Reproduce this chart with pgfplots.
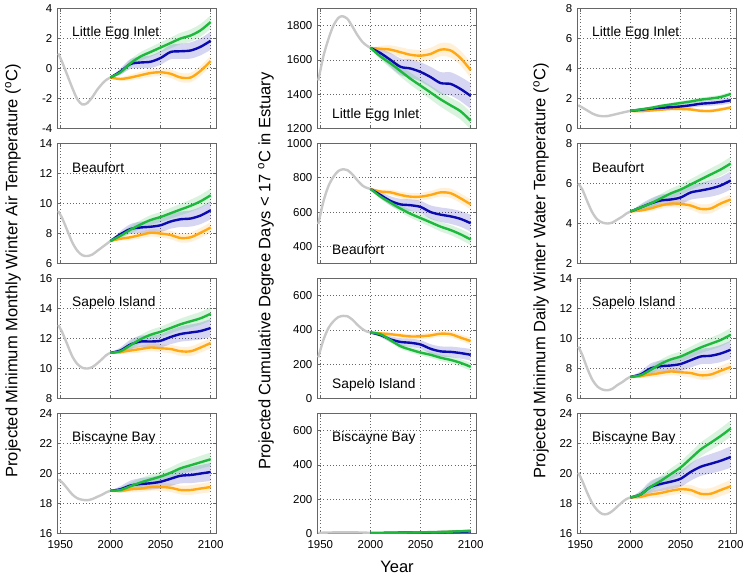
\documentclass[border=0pt]{standalone}
\usepackage{pgfplots}
\pgfplotsset{compat=1.18}
\usepackage{pgfplotstable}
\usepgfplotslibrary{fillbetween}
\usepackage{fontspec}
\setmainfont{Liberation Sans}

\definecolor{corange}{RGB}{255,168,20}
\definecolor{cblue}{RGB}{10,10,175}
\definecolor{cgreen}{RGB}{30,185,60}
\definecolor{cgray}{RGB}{200,200,200}

% ---------- historical (gray) ----------
\pgfplotstableread{
x y
1948 1.0
1952 0.4
1957 -0.45
1962 -1.3
1967 -2.05
1972 -2.4
1977 -2.3
1982 -1.9
1987 -1.4
1992 -1.0
1996 -0.75
2000 -0.6
}\Ha
\pgfplotstableread{
x y
1948 9.5
1952 9.0
1957 8.2
1962 7.4
1967 6.85
1972 6.55
1977 6.5
1982 6.6
1987 6.85
1992 7.1
1996 7.3
2000 7.5
}\Hb
\pgfplotstableread{
x y
1948 12.9
1952 12.4
1957 11.6
1962 10.8
1967 10.3
1972 10.05
1977 10.0
1982 10.1
1987 10.35
1992 10.65
1996 10.9
2000 11.05
}\Hc
\pgfplotstableread{
x y
1948 19.6
1952 19.4
1957 19.0
1962 18.6
1967 18.35
1972 18.25
1977 18.22
1982 18.3
1987 18.45
1992 18.6
1996 18.75
2000 18.85
}\Hd
\pgfplotstableread{
x y
1948 1480
1953 1620
1958 1720
1963 1800
1968 1845
1972 1855
1977 1840
1982 1795
1987 1745
1992 1705
1996 1685
2000 1670
}\HCa
\pgfplotstableread{
x y
1948 530
1953 660
1958 750
1963 805
1968 840
1973 850
1977 845
1982 820
1987 785
1992 755
1996 742
2000 735
}\HCb
\pgfplotstableread{
x y
1948 240
1953 340
1958 410
1963 450
1968 475
1973 482
1977 480
1982 460
1987 430
1992 405
1996 392
2000 385
}\HCc
\pgfplotstableread{
x y
1948 4
1960 6
1975 7
1990 6
2000 4
}\HCd
\pgfplotstableread{
x y
1948 1.55
1952 1.4
1957 1.2
1962 1.0
1967 0.87
1972 0.82
1977 0.83
1982 0.9
1987 0.98
1992 1.06
1996 1.12
2000 1.18
}\HWa
\pgfplotstableread{
x y
1948 6.0
1952 5.7
1957 5.1
1962 4.55
1967 4.2
1972 4.05
1977 4.0
1982 4.05
1987 4.2
1992 4.35
1996 4.5
2000 4.6
}\HWb
\pgfplotstableread{
x y
1948 9.45
1952 8.9
1957 8.0
1962 7.25
1967 6.8
1972 6.6
1977 6.55
1982 6.65
1987 6.9
1992 7.1
1996 7.3
2000 7.45
}\HWc
\pgfplotstableread{
x y
1948 20.05
1952 19.5
1957 18.7
1962 18.0
1967 17.55
1972 17.3
1977 17.3
1982 17.5
1987 17.8
1992 18.1
1996 18.3
2000 18.4
}\HWd

% ---------- projections: orange, blue, green with band half-widths ----------
\pgfplotstableread{
x o oe b be g ge
2000 -0.6 0 -0.6 0 -0.6 0
2010 -0.7 .12 -0.2 .21 -0.25 .16
2020 -0.6 .19 0.3 .33 0.35 .25
2030 -0.45 .23 0.4 .39 0.8 .29
2040 -0.3 .25 0.45 .42 1.1 .32
2050 -0.25 .26 0.7 .45 1.4 .34
2060 -0.35 .28 1.1 .48 1.7 .36
2070 -0.6 .30 1.15 .51 2.0 .38
2080 -0.6 .32 1.2 .54 2.2 .41
2090 -0.15 .33 1.45 .57 2.55 .43
2100 0.5 .35 1.85 .60 3.1 .45
}\Ta
\pgfplotstableread{
x o oe b be g ge
2000 7.5 0 7.5 0 7.5 0
2010 7.65 .12 7.95 .21 7.85 .16
2020 7.75 .19 8.3 .33 8.25 .25
2030 7.9 .23 8.4 .39 8.6 .29
2040 8.05 .25 8.45 .42 8.9 .32
2050 8.0 .26 8.55 .45 9.1 .34
2060 7.9 .28 8.8 .48 9.35 .36
2070 7.7 .30 8.95 .51 9.6 .38
2080 7.75 .32 9.0 .54 9.85 .41
2090 8.05 .33 9.2 .57 10.15 .43
2100 8.4 .35 9.55 .60 10.55 .45
}\Tb
\pgfplotstableread{
x o oe b be g ge
2000 11.05 0 11.05 0 11.05 0
2010 11.1 .12 11.2 .21 11.15 .16
2020 11.2 .19 11.6 .33 11.55 .25
2030 11.3 .23 11.8 .39 11.95 .29
2040 11.4 .25 11.8 .42 12.25 .32
2050 11.35 .26 11.85 .45 12.45 .34
2060 11.3 .28 12.1 .48 12.7 .36
2070 11.15 .30 12.3 .51 12.95 .38
2080 11.15 .32 12.4 .54 13.15 .41
2090 11.4 .33 12.5 .57 13.35 .43
2100 11.7 .35 12.7 .60 13.65 .45
}\Tc
\pgfplotstableread{
x o oe b be g ge
2000 18.85 0 18.85 0 18.85 0
2010 18.85 .12 18.95 .21 18.9 .16
2020 18.95 .19 19.2 .33 19.15 .25
2030 19.0 .23 19.3 .39 19.4 .29
2040 19.1 .25 19.35 .42 19.6 .32
2050 19.1 .26 19.45 .45 19.8 .34
2060 19.05 .28 19.65 .48 20.05 .36
2070 18.9 .30 19.85 .51 20.35 .38
2080 18.9 .32 19.9 .54 20.55 .41
2090 19.0 .33 20.0 .57 20.75 .43
2100 19.1 .35 20.1 .60 20.95 .45
}\Td
\pgfplotstableread{
x o oe b be g ge
2000 1670 0 1670 0 1670 0
2010 1665 16 1640 26 1620 18
2020 1660 25 1600 41 1580 28
2030 1645 29 1560 49 1535 33
2040 1630 32 1550 53 1490 35
2050 1625 34 1530 56 1450 38
2060 1635 36 1500 60 1410 40
2070 1660 38 1465 64 1370 43
2080 1655 41 1460 68 1335 45
2090 1610 43 1430 71 1300 48
2100 1540 45 1390 75 1245 50
}\Ca
\pgfplotstableread{
x o oe b be g ge
2000 735 0 735 0 735 0
2010 720 10 700 17 690 12
2020 715 16 665 27 655 18
2030 700 19 645 32 620 21
2040 690 21 640 34 590 23
2050 690 22 630 36 565 25
2060 700 23 600 39 540 26
2070 715 25 585 42 515 28
2080 710 27 575 44 495 29
2090 680 28 560 46 470 31
2100 645 29 535 49 440 33
}\Cb
\pgfplotstableread{
x o oe b be g ge
2000 385 0 385 0 385 0
2010 380 7 370 12 375 8
2020 375 11 345 18 340 13
2030 368 13 330 22 305 15
2040 362 14 325 24 285 16
2050 363 15 315 25 268 17
2060 368 16 290 27 255 18
2070 378 17 275 29 238 19
2080 375 18 272 31 225 20
2090 355 19 265 32 208 22
2100 335 20 255 34 185 23
}\Cc
\pgfplotstableread{
x o oe b be g ge
2000 3 0 3 0 3 0
2010 3 1 3 1 3 1
2020 4 1 4 1 4 1
2030 5 1 5 2 5 1
2040 5 2 6 2 6 2
2050 6 2 6 2 7 2
2060 7 2 7 3 8 2
2070 8 3 8 3 9 3
2080 10 3 9 3 11 3
2090 13 3 10 4 13 3
2100 18 4 12 4 15 4
}\Cd
\pgfplotstableread{
x o oe b be g ge
2000 1.17 0 1.18 0 1.18 0
2010 1.15 .05 1.25 .08 1.27 .06
2020 1.2 .07 1.33 .12 1.37 .09
2030 1.25 .08 1.38 .14 1.5 .10
2040 1.3 .09 1.42 .15 1.6 .11
2050 1.3 .10 1.47 .16 1.7 .12
2060 1.27 .10 1.55 .17 1.8 .13
2070 1.18 .11 1.65 .18 1.92 .14
2080 1.17 .12 1.7 .19 2.0 .15
2090 1.27 .12 1.77 .20 2.1 .15
2100 1.4 .13 1.88 .21 2.3 .16
}\Wa
\pgfplotstableread{
x o oe b be g ge
2000 4.6 0 4.6 0 4.6 0
2010 4.65 .09 4.8 .16 4.8 .12
2020 4.75 .14 5.0 .25 5.0 .19
2030 4.9 .17 5.15 .29 5.25 .22
2040 5.0 .19 5.2 .32 5.5 .24
2050 4.98 .20 5.3 .34 5.7 .26
2060 4.9 .21 5.55 .36 5.95 .27
2070 4.73 .23 5.65 .38 6.2 .29
2080 4.75 .24 5.75 .41 6.45 .31
2090 5.0 .25 5.9 .43 6.7 .32
2100 5.2 .26 6.15 .45 7.0 .34
}\Wb
\pgfplotstableread{
x o oe b be g ge
2000 7.42 0 7.45 0 7.45 0
2010 7.5 .12 7.6 .21 7.55 .16
2020 7.6 .19 8.0 .33 7.9 .25
2030 7.7 .23 8.15 .39 8.3 .29
2040 7.8 .25 8.2 .42 8.6 .32
2050 7.75 .26 8.3 .45 8.8 .34
2060 7.7 .28 8.55 .48 9.1 .36
2070 7.55 .30 8.8 .51 9.4 .38
2080 7.6 .32 8.85 .54 9.65 .41
2090 7.85 .33 9.0 .57 9.9 .43
2100 8.1 .35 9.25 .60 10.25 .45
}\Wc
\pgfplotstableread{
x o oe b be g ge
2000 18.4 0 18.4 0 18.4 0
2010 18.45 .14 18.6 .25 18.6 .19
2020 18.6 .23 19.1 .40 19.1 .30
2030 18.7 .28 19.3 .47 19.5 .35
2040 18.85 .30 19.45 .50 19.95 .38
2050 18.95 .31 19.65 .54 20.4 .41
2060 18.9 .34 20.1 .58 21.0 .43
2070 18.65 .36 20.45 .61 21.6 .46
2080 18.65 .38 20.65 .65 22.05 .49
2090 18.9 .40 20.85 .68 22.5 .52
2100 19.15 .42 21.1 .72 23.0 .54
}\Wd

\newcommand{\bandpair}[4]{% table, column, err column, colour
  \addplot[name path=up, draw=none, smooth, forget plot] table[x=x, y expr=\thisrow{#2}+\thisrow{#3}]{#1};
  \addplot[name path=lo, draw=none, smooth, forget plot] table[x=x, y expr=\thisrow{#2}-\thisrow{#3}]{#1};
  \addplot[fill=#4, fill opacity=0.17, draw=none, forget plot] fill between[of=up and lo];
}
\newcommand{\drawpanel}[2]{% hist table, projection table
  \bandpair{#2}{o}{oe}{corange}
  \bandpair{#2}{b}{be}{cblue}
  \bandpair{#2}{g}{ge}{cgreen}
  \addplot[cgray, line width=1.8pt, smooth] table[x=x, y=y]{#1};
  \addplot[corange, line width=1.8pt, smooth] table[x=x, y=o]{#2};
  \addplot[cblue, line width=1.8pt, smooth] table[x=x, y=b]{#2};
  \addplot[cgreen, line width=1.8pt, smooth] table[x=x, y=g]{#2};
}

\pgfplotsset{
  panel/.style={
    anchor=south west, scale only axis, width=119.25pt, height=90pt,
    xmin=1946.7, xmax=2105.3, xtick={1950,2000,2050,2100},
    grid=major, major grid style={dotted, black!60, line width=0.6pt},
    axis line style={black!60, line width=0.6pt},
    tick style={black!60, line width=0.5pt}, tick align=inside, major tick length=2.5pt,
    tick label style={font=\fontsize{8.6}{10}\selectfont},
    xticklabel style={yshift=-1.5pt},
    /pgf/number format/1000 sep={},
    /pgf/number format/assume math mode=true,
  },
  upper/.style={xticklabel=\empty},
}
\tikzset{ttl/.style={font=\fontsize{10.3}{12}\selectfont, inner sep=0pt, anchor=west}}

\begin{document}
\begin{tikzpicture}
\path (0,0) rectangle (561pt,433.5pt);
% ---------------- column 1 ----------------
\begin{axis}[panel, upper, at={(42.75pt,338.25pt)}, ymin=-4, ymax=4, ytick={-4,-2,...,4}]
\drawpanel{\Ha}{\Ta}
\node[ttl] at (rel axis cs:0.094,0.8) {Little Egg Inlet};
\end{axis}
\begin{axis}[panel, upper, at={(42.75pt,237pt)}, ymin=6, ymax=14, ytick={6,8,...,14}]
\drawpanel{\Hb}{\Tb}
\node[ttl] at (rel axis cs:0.094,0.8) {Beaufort};
\end{axis}
\begin{axis}[panel, upper, at={(42.75pt,135.75pt)}, ymin=8, ymax=16, ytick={8,10,...,16}]
\drawpanel{\Hc}{\Tc}
\node[ttl] at (rel axis cs:0.094,0.8) {Sapelo Island};
\end{axis}
\begin{axis}[panel, at={(42.75pt,34.5pt)}, ymin=16, ymax=24, ytick={16,18,...,24}]
\drawpanel{\Hd}{\Td}
\node[ttl] at (rel axis cs:0.094,0.8) {Biscayne Bay};
\end{axis}
% ---------------- column 2 ----------------
\begin{axis}[panel, upper, at={(237.75pt,338.25pt)}, ymin=1200, ymax=1900, ytick={1200,1400,1600,1800}]
\drawpanel{\HCa}{\Ca}
\node[ttl] at (rel axis cs:0.094,0.117) {Little Egg Inlet};
\end{axis}
\begin{axis}[panel, upper, at={(237.75pt,237pt)}, ymin=300, ymax=1000, ytick={400,600,800,1000}]
\drawpanel{\HCb}{\Cb}
\node[ttl] at (rel axis cs:0.094,0.117) {Beaufort};
\end{axis}
\begin{axis}[panel, upper, at={(237.75pt,135.75pt)}, ymin=0, ymax=700, ytick={0,200,400,600}]
\drawpanel{\HCc}{\Cc}
\node[ttl] at (rel axis cs:0.094,0.117) {Sapelo Island};
\end{axis}
\begin{axis}[panel, at={(237.75pt,34.5pt)}, ymin=0, ymax=700, ytick={0,200,400,600}]
\drawpanel{\HCd}{\Cd}
\node[ttl] at (rel axis cs:0.094,0.8) {Biscayne Bay};
\end{axis}
% ---------------- column 3 ----------------
\begin{axis}[panel, upper, at={(432.75pt,338.25pt)}, ymin=0, ymax=8, ytick={0,2,...,8}]
\drawpanel{\HWa}{\Wa}
\node[ttl] at (rel axis cs:0.094,0.8) {Little Egg Inlet};
\end{axis}
\begin{axis}[panel, upper, at={(432.75pt,237pt)}, ymin=2, ymax=8, ytick={2,4,...,8}]
\drawpanel{\HWb}{\Wb}
\node[ttl] at (rel axis cs:0.094,0.8) {Beaufort};
\end{axis}
\begin{axis}[panel, upper, at={(432.75pt,135.75pt)}, ymin=6, ymax=14, ytick={6,8,...,14}]
\drawpanel{\HWc}{\Wc}
\node[ttl] at (rel axis cs:0.094,0.8) {Sapelo Island};
\end{axis}
\begin{axis}[panel, at={(432.75pt,34.5pt)}, ymin=16, ymax=24, ytick={16,18,...,24}]
\drawpanel{\HWd}{\Wd}
\node[ttl] at (rel axis cs:0.094,0.8) {Biscayne Bay};
\end{axis}
% ---------------- labels ----------------
\node[rotate=90, anchor=north, inner sep=0pt, font=\fontsize{12.4}{14}\selectfont] at (3.75pt,231.4pt) {Projected Minimum Monthly Winter Air Temperature (\textsuperscript{o}C)};
\node[rotate=90, anchor=north, inner sep=0pt, font=\fontsize{12.4}{14}\selectfont] at (193.5pt,231.4pt) {Projected Cumulative Degree Days < 17 \textsuperscript{o}C in Estuary};
\node[rotate=90, anchor=north, inner sep=0pt, font=\fontsize{12.4}{14}\selectfont] at (399.75pt,231.4pt) {Projected Minimum Daily Winter Water Temperature (\textsuperscript{o}C)};
\node[inner sep=0pt, font=\fontsize{12.4}{14}\selectfont] at (297.75pt,9.75pt) {Year};
\end{tikzpicture}
\end{document}
